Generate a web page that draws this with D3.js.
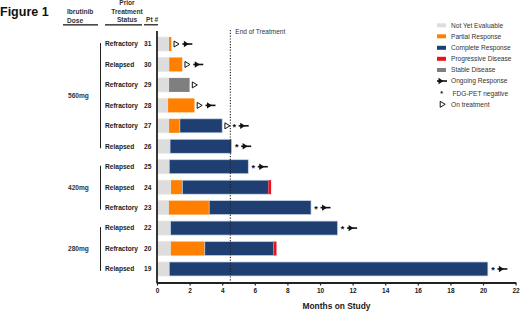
<!DOCTYPE html>
<html><head><meta charset="utf-8">
<script src="https://cdn.jsdelivr.net/npm/d3@7"></script>
<style>body{margin:0;background:#fff}svg{display:block;font-family:"Liberation Sans",Arial,sans-serif}</style>
</head><body><svg id="c" width="520" height="312"></svg>
<script>
const patients = ["31","30","29","28","27","26","25","24","23","22","20","19"];
const status = ["Refractory","Relapsed","Refractory","Refractory","Refractory","Relapsed","Relapsed","Relapsed","Refractory","Relapsed","Refractory","Relapsed"];
const doseGroups = [{dose:"560mg", from:"31", to:"26"},{dose:"420mg", from:"25", to:"23"},{dose:"280mg", from:"22", to:"19"}];
// durations (months), stacked in this order
const notYetEvaluable = [0.74,0.75,0.74,0.68,0.74,0.80,0.75,0.86,0.73,0.83,0.85,0.75];
const partialResponse = [0.14,0.80,0,1.62,0.66,0,0,0.69,2.47,0,2.08,0];
const stableDisease   = [0,0,1.26,0,0,0,0,0,0,0,0,0];
const completeResponse= [0,0,0,0,2.60,3.78,4.85,5.28,6.25,10.25,4.22,19.55];
const progressiveDisease=[0,0,0,0,0,0,0,0.17,0,0,0.18,0];
const onTreatment = [1,1,1,1,1,0,0,0,0,0,0,0];
const fdgPetNegative = [0,0,0,0,1,1,1,0,1,1,0,1];
const ongoingResponse = [1,1,0,1,1,1,1,0,1,1,0,1];
const xTicks = [0,2,4,6,8,10,12,14,16,18,20,22];
const endOfTreatment = 4.5;

const seriesNames = ["Not Yet Evaluable","Partial Response","Stable Disease","Complete Response","Progressive Disease"];
const seriesData = [notYetEvaluable, partialResponse, stableDisease, completeResponse, progressiveDisease];
const colors = {"Not Yet Evaluable":"#dddddd","Partial Response":"#ff8000","Complete Response":"#1f3f73","Progressive Disease":"#e8141b","Stable Disease":"#7f7f7f"};

const svg = d3.select("#c");
const x = d3.scaleLinear().domain([0,22]).range([157,515.6]);
const y = d3.scalePoint().domain(patients).range([33.8,279.2]).padding(0.5);
const bh = 14;
const txt = "#1a1a1a";

// Figure title
svg.append("text").attr("x",0).attr("y",16).attr("font-size",12.5).attr("font-weight","bold").attr("fill","#111").text("Figure 1");

// headers
const hdr = svg.append("g").attr("font-size",6.6).attr("font-weight","bold").attr("fill","#333");
hdr.append("text").attr("x",67).attr("y",14).text("Ibrutinib");
hdr.append("text").attr("x",67).attr("y",22.5).text("Dose");
hdr.append("text").attr("x",127).attr("y",5).attr("text-anchor","middle").text("Prior");
hdr.append("text").attr("x",127).attr("y",13.5).attr("text-anchor","middle").text("Treatment");
hdr.append("text").attr("x",127).attr("y",22).attr("text-anchor","middle").text("Status");
hdr.append("text").attr("x",146).attr("y",22).text("Pt #");
[[63,98],[105,142],[144,158]].forEach(([a,b])=>{
  svg.append("line").attr("x1",a).attr("x2",b).attr("y1",24.8).attr("y2",24.8).attr("stroke","#111").attr("stroke-width",1.2);
});

// row labels
patients.forEach((p,i)=>{
  svg.append("text").attr("x",105).attr("y",y(p)+2.4).attr("font-size",6.6).attr("font-weight","bold").attr("fill",txt).text(status[i]);
  svg.append("text").attr("x",144).attr("y",y(p)+2.4).attr("font-size",6.6).attr("font-weight","bold").attr("fill",txt).text(p);
});

// dose brackets
doseGroups.forEach(g=>{
  const y1 = y(g.from)-1, y2 = y(g.to)+2;
  svg.append("line").attr("x1",100.5).attr("x2",100.5).attr("y1",y1).attr("y2",y2).attr("stroke","#222").attr("stroke-width",1);
  svg.append("text").attr("x",68).attr("y",(y1+y2)/2+2.4).attr("font-size",6.6).attr("font-weight","bold").attr("fill","#333").text(g.dose);
});

// bars
patients.forEach((p,i)=>{
  let start = 0;
  seriesData.forEach((arr,k)=>{
    const v = arr[i];
    if(v>0){
      const name = seriesNames[k];
      svg.append("rect").attr("x",x(start)).attr("y",y(p)-bh/2).attr("width",x(start+v)-x(start)).attr("height",bh)
        .attr("fill",colors[name])
        .attr("stroke", name==="Complete Response" ? "#c9d8ea" : (name==="Not Yet Evaluable" ? "#ece4dc" : "none"))
        .attr("stroke-width",0.7);
      start += v;
    }
  });
});

// end of treatment line
svg.append("line").attr("x1",x(endOfTreatment)).attr("x2",x(endOfTreatment)).attr("y1",30).attr("y2",282)
  .attr("stroke","#222").attr("stroke-width",1.1).attr("stroke-dasharray","1.2,1.6");
svg.append("text").attr("x",x(endOfTreatment)+5).attr("y",33.5).attr("font-size",6.5).attr("fill","#333").text("End of Treatment");

// marker helpers
function tri(g,cx,cy){ g.append("path").attr("d",`M${cx-2.3},${cy-3}L${cx+2.7},${cy}L${cx-2.3},${cy+3}Z`).attr("fill","#fff").attr("stroke","#111").attr("stroke-width",1); }
function star(g,cx,cy,s){ g.append("text").attr("x",cx).attr("y",cy+(s||9)*0.45).attr("text-anchor","middle").attr("font-size",s||9).attr("font-weight","bold").attr("fill","#111").text("*"); }
function arrow(g,x0,cy){
  g.append("line").attr("x1",x0).attr("x2",x0+10).attr("y1",cy).attr("y2",cy).attr("stroke","#111").attr("stroke-width",1.6);
  g.append("path").attr("d",`M${x0+1.5},${cy-3.2}L${x0+6.5},${cy}L${x0+1.5},${cy+3.2}Z`).attr("fill","#111");
}

const mk = svg.append("g");
patients.forEach((p,i)=>{
  const end = notYetEvaluable[i]+partialResponse[i]+stableDisease[i]+completeResponse[i]+progressiveDisease[i];
  let cx = x(end)+4;
  const cy = y(p);
  if(onTreatment[i]){ tri(mk,cx+1,cy); cx += 7; }
  if(fdgPetNegative[i]){ star(mk,cx+1,cy); cx += 5.5; }
  if(ongoingResponse[i]){ arrow(mk,cx,cy); }
});

// axes
const xa = svg.append("g").attr("transform","translate(0,282.5)")
  .call(d3.axisBottom(x).tickValues(xTicks).tickSize(3).tickPadding(3).tickSizeOuter(0));
xa.select(".domain").attr("stroke","#222").attr("stroke-width",1.8);
xa.selectAll(".tick line").attr("stroke","#222").attr("stroke-width",1.2);
xa.selectAll(".tick text").attr("font-size",6.5).attr("font-weight","bold").attr("fill",txt).attr("font-family","Liberation Sans, Arial, sans-serif");
svg.append("line").attr("x1",157).attr("x2",157).attr("y1",31).attr("y2",283.3).attr("stroke","#222").attr("stroke-width",1.8);
svg.append("text").attr("x",336.5).attr("y",309).attr("text-anchor","middle").attr("font-size",8.4).attr("font-weight","bold").attr("fill",txt).text("Months on Study");

// legend
const lg = svg.append("g").attr("font-size",6.6).attr("fill","#333");
const legendItems = [
  {t:"Not Yet Evaluable",k:"sw",c:colors["Not Yet Evaluable"]},
  {t:"Partial Response",k:"sw",c:colors["Partial Response"]},
  {t:"Complete Response",k:"sw",c:colors["Complete Response"]},
  {t:"Progressive Disease",k:"sw",c:colors["Progressive Disease"]},
  {t:"Stable Disease",k:"sw",c:colors["Stable Disease"]},
  {t:"Ongoing Response",k:"arrow"},
  {t:"FDG-PET negative",k:"star"},
  {t:"On treatment",k:"tri"}
];
const ly = [25.3,36.3,47.8,58.8,70,81,93.3,104.3];
legendItems.forEach((d,i)=>{
  const cy = ly[i];
  if(d.k==="sw") lg.append("rect").attr("x",437).attr("y",cy-2).attr("width",9).attr("height",4).attr("fill",d.c);
  else if(d.k==="arrow") arrow(lg,437,cy);
  else if(d.k==="star") star(lg,441.5,cy,7);
  else tri(lg,442.5,cy);
  lg.append("text").attr("x",d.k==="star"?452.5:451).attr("y",cy+2.4).text(d.t);
});
</script></body></html>
